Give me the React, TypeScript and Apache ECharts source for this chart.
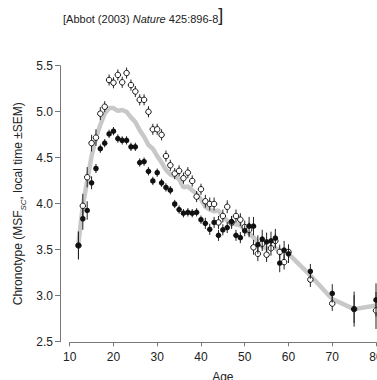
import React, { useEffect, useRef } from "react";
import * as echarts from "echarts";

const ages = [
  12, 13, 14, 15, 16, 17, 18, 19, 20, 21, 22, 23, 24, 25, 26, 27, 28, 29, 30,
  31, 32, 33, 34, 35, 36, 37, 38, 39, 40, 41, 42, 43, 44, 45, 46, 47, 48, 49,
  50, 51, 52, 53, 54, 55, 56, 57, 58, 59, 60, 65, 70, 75, 80,
];

const openMean = [
  3.55, 3.98, 4.29, 4.66, 4.72, 4.98, 5.055, 5.345, 5.315, 5.4, 5.32, 5.42,
  5.29, 5.22, 5.13, 5.13, 5.0, 4.81, 4.81, 4.75, 4.52, 4.42, 4.33, 4.36, 4.28,
  4.34, 4.25, 4.08, 4.16, 4.03, 4.0, 4.0, 3.8, 3.87, 3.97, 3.8, 3.87, 3.83,
  3.75, 3.72, 3.53, 3.46, 3.57, 3.45, 3.52, 3.6, 3.48, 3.37, 3.48, 3.18, 2.92,
  2.86, 2.845,
];

const openSem = [
  0.15, 0.13, 0.11, 0.09, 0.09, 0.07, 0.06, 0.06, 0.06, 0.06, 0.06, 0.06, 0.06,
  0.06, 0.06, 0.06, 0.06, 0.06, 0.06, 0.06, 0.06, 0.06, 0.06, 0.06, 0.06, 0.06,
  0.06, 0.06, 0.06, 0.07, 0.07, 0.07, 0.07, 0.07, 0.07, 0.07, 0.07, 0.07, 0.07,
  0.08, 0.08, 0.08, 0.08, 0.08, 0.08, 0.08, 0.08, 0.08, 0.08, 0.08, 0.08, 0.15,
  0.2,
];

const filledMean = [
  3.55, 3.84, 3.93, 4.23, 4.385, 4.6, 4.66, 4.76, 4.79, 4.71, 4.69, 4.69, 4.62,
  4.62, 4.45, 4.46, 4.355, 4.25, 4.34, 4.23, 4.18, 4.15, 4.0, 3.94, 3.9, 3.91,
  3.9, 3.91, 3.83, 3.79, 3.725, 3.8, 3.66, 3.72, 3.745, 3.81, 3.66, 3.635,
  3.71, 3.76, 3.76, 3.56, 3.62, 3.59, 3.6, 3.63, 3.36, 3.5, 3.46, 3.27, 3.03,
  2.86, 2.96,
];

const filledSem = [
  0.15, 0.12, 0.1, 0.07, 0.05, 0.045, 0.045, 0.045, 0.045, 0.045, 0.045, 0.045,
  0.045, 0.045, 0.045, 0.045, 0.045, 0.045, 0.045, 0.045, 0.045, 0.045, 0.045,
  0.045, 0.045, 0.045, 0.045, 0.045, 0.045, 0.06, 0.06, 0.06, 0.06, 0.06, 0.06,
  0.06, 0.06, 0.06, 0.06, 0.1, 0.1, 0.1, 0.1, 0.1, 0.1, 0.1, 0.1, 0.1, 0.1,
  0.08, 0.1, 0.19, 0.18,
];

const grayLine = [
  3.58, 3.98, 4.25, 4.52, 4.72, 4.86, 4.98, 5.04, 5.04, 5.01, 5.02, 5.0, 4.94,
  4.89, 4.8, 4.73, 4.64, 4.6, 4.52, 4.45, 4.37, 4.32, 4.3, 4.27, 4.18, 4.19,
  4.15, 4.11, 4.05, 3.97, 3.94, 3.92, 3.93, 3.86, 3.82, 3.79, 3.78, 3.77, 3.72,
  3.68, 3.64, 3.58, 3.54, 3.515, 3.53, 3.52, 3.5, 3.48, 3.46, 3.225, 2.97,
  2.86, 2.9,
];

const FONT = "Liberation Sans, Arial, sans-serif";
const AXIS_COLOR = "#777";
const TEXT_COLOR = "#222";

function errorRender(params: any, api: any) {
  const x = api.value(0);
  const p1 = api.coord([x, api.value(1)]);
  const p2 = api.coord([x, api.value(2)]);
  return {
    type: "line",
    shape: { x1: p1[0], y1: p1[1], x2: p2[0], y2: p2[1] },
    style: { stroke: "#222", lineWidth: 1 },
  };
}

export default function App() {
  const ref = useRef<HTMLDivElement>(null);

  useEffect(() => {
    if (!ref.current) return;
    const chart = echarts.init(ref.current, undefined, { renderer: "svg" });

    const openPts = ages.map((a, i) => [a, openMean[i]]);
    const filledPts = ages.map((a, i) => [a, filledMean[i]]);
    const openErr = ages.map((a, i) => [a, openMean[i] - openSem[i], openMean[i] + openSem[i]]);
    const filledErr = ages.map((a, i) => [a, filledMean[i] - filledSem[i], filledMean[i] + filledSem[i]]);
    const grayPts = ages.map((a, i) => [a, grayLine[i]]);

    chart.setOption({
      animation: false,
      backgroundColor: "#fff",
      textStyle: { fontFamily: FONT },
      graphic: [
        {
          type: "text",
          left: 63,
          top: 6,
          style: {
            text: "{a|[Abbot (2003) }{i|Nature}{a| 425:896-8}{b|]}",
            rich: {
              a: { fontSize: 11, fontFamily: FONT, fill: TEXT_COLOR, verticalAlign: "bottom", lineHeight: 16 },
              i: { fontSize: 11, fontFamily: FONT, fontStyle: "italic", fill: TEXT_COLOR, verticalAlign: "bottom", lineHeight: 16 },
              b: { fontSize: 18, fontFamily: FONT, fill: TEXT_COLOR, verticalAlign: "bottom", lineHeight: 20 },
            },
          },
        },
      ],
      grid: [
        { left: 60, top: 65.7, width: 10, height: 276, outerBoundsMode: "none", containLabel: false },
        { left: 69.7, top: 65.7, width: 306.3, height: 276.6, outerBoundsMode: "none", containLabel: false },
      ],
      xAxis: [
        { gridIndex: 0, type: "value", min: 0, max: 1, show: false },
        {
          gridIndex: 1,
          type: "value",
          min: 10,
          max: 80,
          interval: 10,
          name: "Age",
          nameLocation: "middle",
          nameGap: 29,
          nameTextStyle: { fontSize: 12, color: TEXT_COLOR, fontFamily: FONT },
          axisLine: { show: true, onZero: false, lineStyle: { color: AXIS_COLOR, width: 1 } },
          axisTick: { show: true, length: 4, lineStyle: { color: AXIS_COLOR } },
          axisLabel: { fontSize: 12, color: TEXT_COLOR, margin: 9, fontFamily: FONT },
          splitLine: { show: false },
        },
      ],
      yAxis: [
        {
          gridIndex: 0,
          type: "value",
          min: 2.5,
          max: 5.5,
          interval: 0.5,
          name: "{n|Chronotype (MSF}{s|SC}{n|, local time ±SEM)}",
          nameLocation: "middle",
          nameGap: 33,
          nameTextStyle: {
            rich: {
              n: { fontSize: 12, color: TEXT_COLOR, fontFamily: FONT, lineHeight: 18, verticalAlign: "middle" },
              s: { fontSize: 8, color: TEXT_COLOR, fontFamily: FONT, fontStyle: "italic", lineHeight: 8, verticalAlign: "bottom" },
            },
          },
          axisLine: { show: true, onZero: false, lineStyle: { color: AXIS_COLOR, width: 1 } },
          axisTick: { show: true, length: 5, lineStyle: { color: AXIS_COLOR } },
          axisLabel: {
            fontSize: 12,
            color: TEXT_COLOR,
            margin: 7,
            fontFamily: FONT,
            formatter: (v: number) => v.toFixed(1),
          },
          splitLine: { show: false },
        },
        { gridIndex: 1, type: "value", min: 2.5, max: 5.5, show: false },
      ],
      series: [
        {
          type: "line",
          xAxisIndex: 1,
          yAxisIndex: 1,
          data: grayPts,
          showSymbol: false,
          symbol: "none",
          lineStyle: { color: "#c8c8c8", width: 4.5 },
          z: 1,
          silent: true,
        },
        {
          type: "custom",
          xAxisIndex: 1,
          yAxisIndex: 1,
          data: openErr,
          renderItem: errorRender,
          encode: { x: 0, y: [1, 2] },
          clip: false,
          z: 2,
        },
        {
          type: "scatter",
          xAxisIndex: 1,
          yAxisIndex: 1,
          data: openPts,
          symbol: "circle",
          symbolSize: 5.5,
          itemStyle: { color: "#fff", borderColor: "#111", borderWidth: 1, opacity: 1 },
          clip: false,
          z: 3,
        },
        {
          type: "custom",
          xAxisIndex: 1,
          yAxisIndex: 1,
          data: filledErr,
          renderItem: errorRender,
          encode: { x: 0, y: [1, 2] },
          clip: false,
          z: 4,
        },
        {
          type: "scatter",
          xAxisIndex: 1,
          yAxisIndex: 1,
          data: filledPts,
          symbol: "circle",
          symbolSize: 5.5,
          itemStyle: { color: "#111", opacity: 1 },
          clip: false,
          z: 5,
        },
      ],
    });

    return () => chart.dispose();
  }, []);

  return (
    <div
      ref={ref}
      style={{ position: "absolute", left: 0, top: 0, width: 377, height: 380 }}
    />
  );
}
